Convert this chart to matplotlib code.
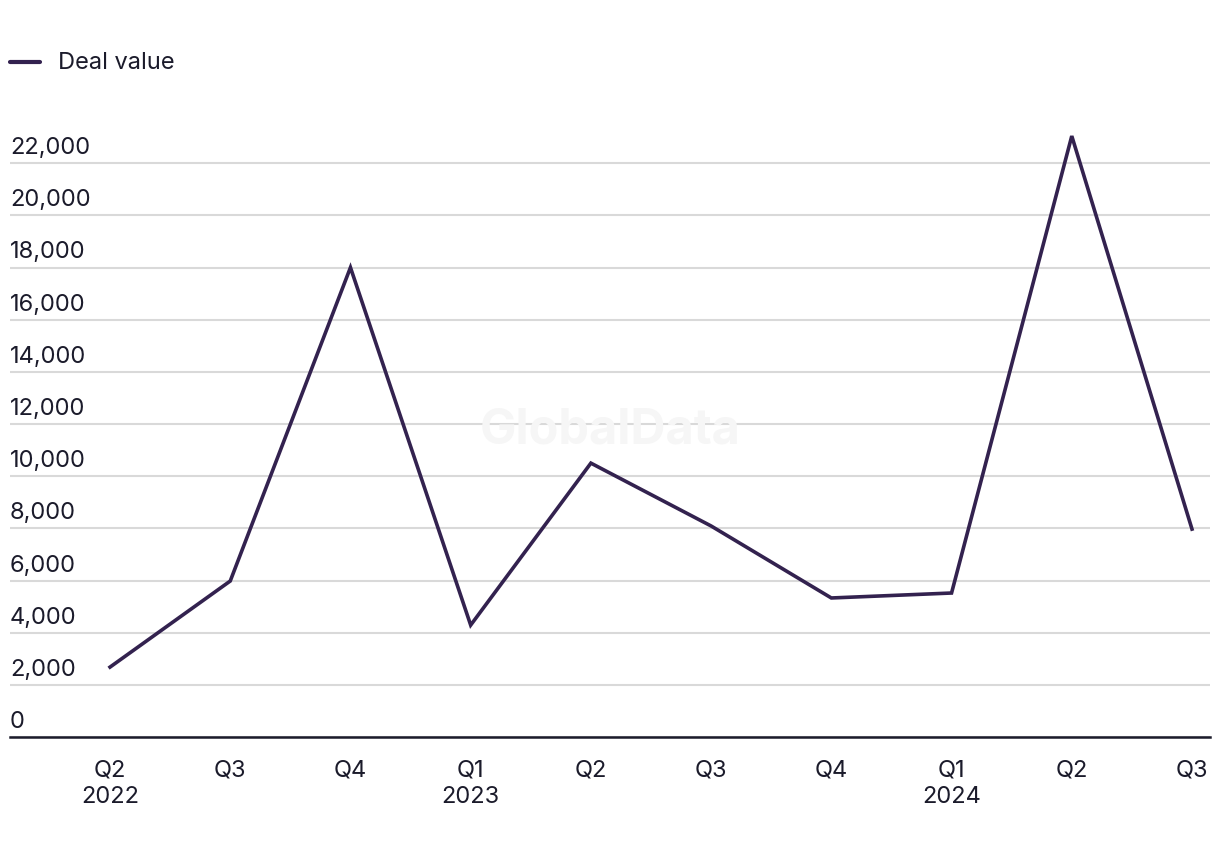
import matplotlib
matplotlib.use("Agg")
import matplotlib.pyplot as plt
from matplotlib.transforms import blended_transform_factory, offset_copy

quarters = ["Q2", "Q3", "Q4", "Q1", "Q2", "Q3", "Q4", "Q1", "Q2", "Q3"]
years = ["2022", "", "", "2023", "", "", "", "2024", "", ""]
deal_value = [2680, 5980, 18000, 4290, 10500, 8090, 5330, 5520, 23040, 7970]
y_ticks = [0, 2000, 4000, 6000, 8000, 10000, 12000, 14000, 16000, 18000, 20000, 22000]

plt.rcParams['font.family'] = ['Inter', 'DejaVu Sans']
line_color = "#33224f"
text_color = "#1b1b2b"

W, H = 1220, 858
fig = plt.figure(figsize=(W / 100, H / 100), dpi=100)
left_px, right_px, bottom_px, top_px = 10, 1210, 737, 111
ax = fig.add_axes([left_px / W, (H - bottom_px) / H, (right_px - left_px) / W, (bottom_px - top_px) / H])

x = list(range(len(deal_value)))
ax.plot(x, deal_value, color=line_color, lw=2.6, solid_joinstyle='miter', zorder=3)

step = 120.2
ax.set_xlim(-(110 - left_px) / step, 9 + (right_px - 1192) / step)
ax.set_ylim(0, 24000)

for s in ["top", "right", "left"]:
    ax.spines[s].set_visible(False)
ax.spines["bottom"].set_color(text_color)
ax.spines["bottom"].set_linewidth(1.8)

ax.set_yticks(y_ticks)
ax.set_yticklabels([])
ax.tick_params(axis='y', length=0)
ax.grid(axis='y', color="#d9d9d9", lw=1.5, zorder=0)
ax.set_axisbelow(True)

trans = offset_copy(blended_transform_factory(ax.transAxes, ax.transData), fig=fig, x=0, y=4, units='dots')
for v in y_ticks:
    ax.text(0, v, f"{v:,}", transform=trans, ha='left', va='bottom', fontsize=17, color=text_color)

ax.set_xticks(x)
ax.set_xticklabels([f"{q}\n{y}" if y else q for q, y in zip(quarters, years)],
                   fontsize=17, color=text_color, linespacing=1.3, va='top')
ax.tick_params(axis='x', length=0, pad=16)

# watermark
ax.text(0.5, (H - 430 - (H - bottom_px)) / (bottom_px - top_px), "GlobalData", transform=ax.transAxes,
        ha='center', va='center', fontsize=35, fontweight='bold', color="#f6f6f6", zorder=1)

# legend
fig.lines.append(plt.Line2D([10 / W, 40 / W], [(H - 62) / H] * 2, transform=fig.transFigure,
                            color=line_color, lw=3, solid_capstyle='round'))
fig.text(58 / W, (H - 63) / H, "Deal value", ha='left', va='center', fontsize=17, color=text_color)

fig.savefig("out.png", dpi=100)
